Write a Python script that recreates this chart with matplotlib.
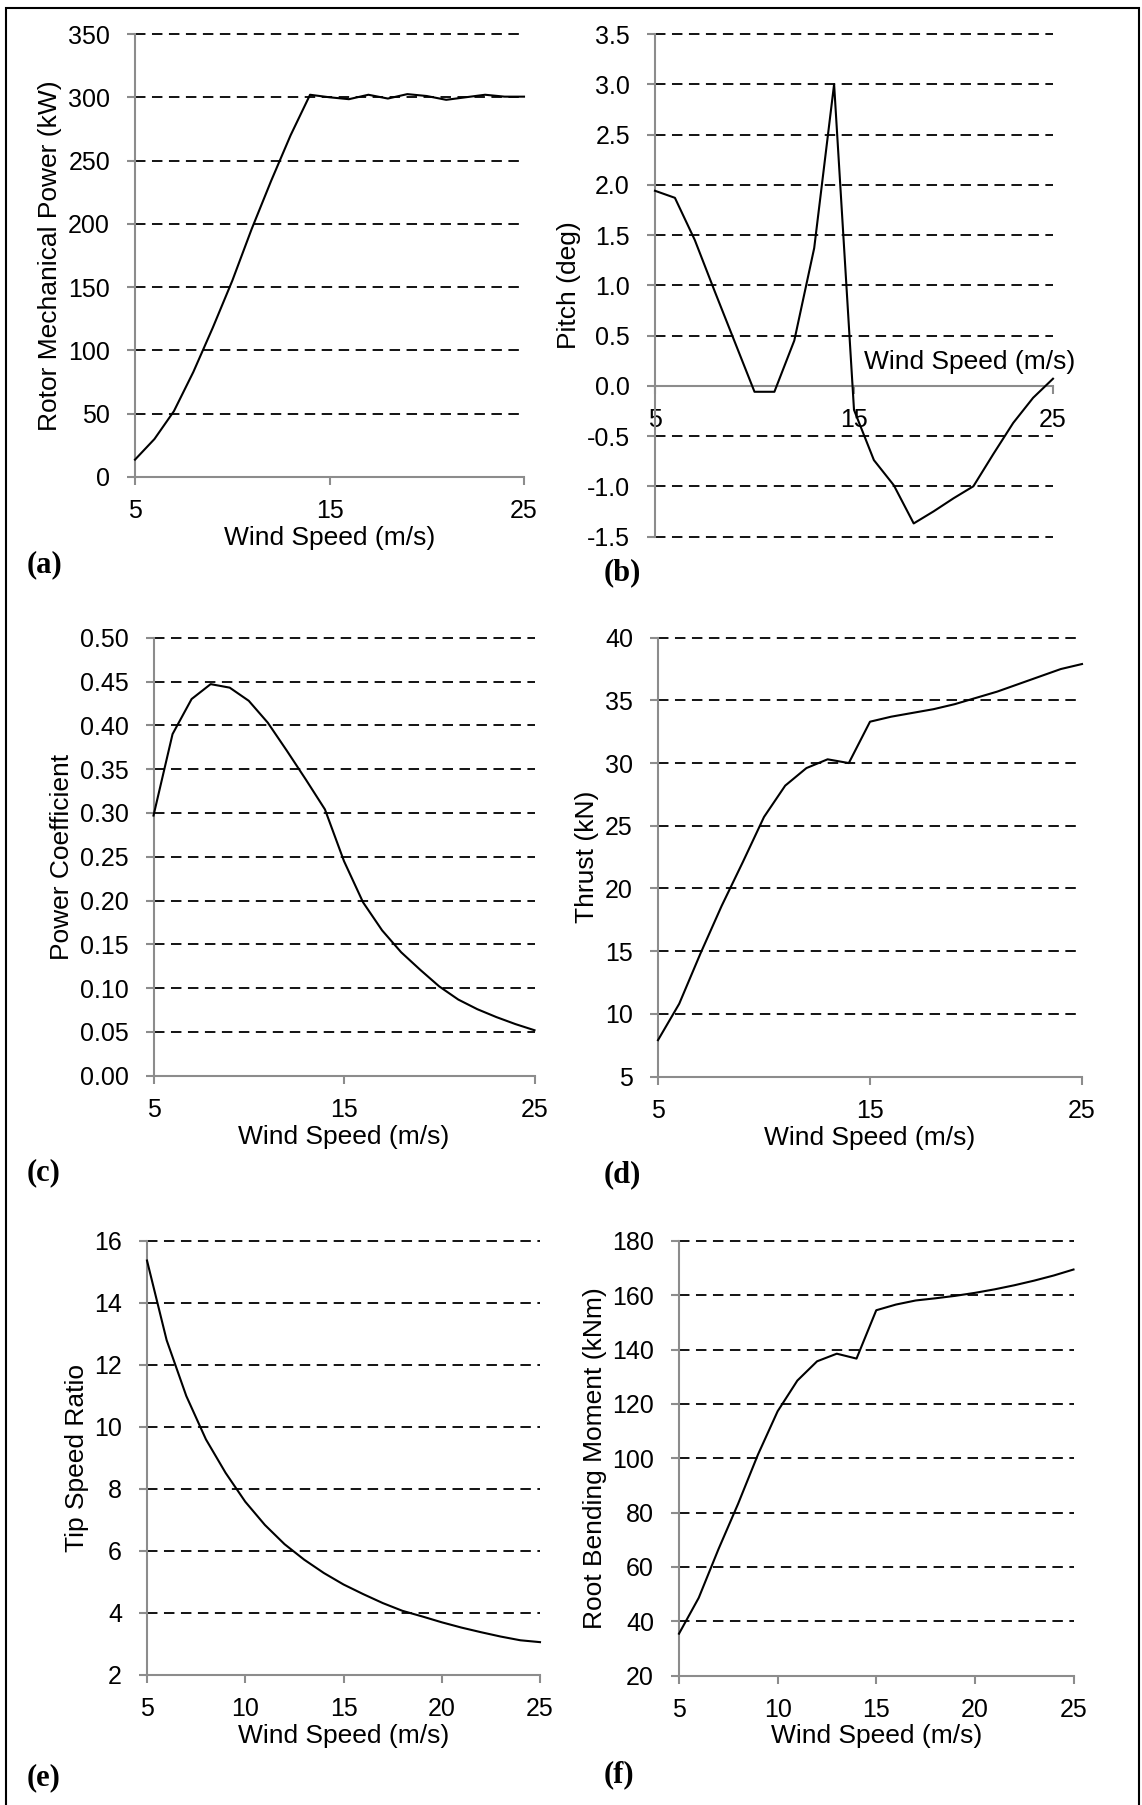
import matplotlib
matplotlib.use('Agg')
import matplotlib.pyplot as plt
from matplotlib.patches import Rectangle
from matplotlib.ticker import FormatStrFormatter

W, H = 1142, 1805

# Wind speeds (m/s) shared by all six panels
wind_speed = [5, 6, 7, 8, 9, 10, 11, 12, 13, 14, 15, 16, 17, 18, 19, 20, 21, 22, 23, 24, 25]

rotor_power = [13.7, 30, 52, 83, 118, 155, 196, 234, 270, 302, 300, 298.5, 302,
               299, 302.5, 301, 298, 300, 302, 300.5, 300.5]
pitch = [1.94, 1.87, 1.45, 0.94, 0.44, -0.06, -0.06, 0.45, 1.37, 3.0, -0.24,
         -0.74, -0.99, -1.37, -1.25, -1.12, -1.0, -0.68, -0.37, -0.12, 0.07]
power_coeff = [0.297, 0.390, 0.430, 0.447, 0.443, 0.428, 0.403, 0.371, 0.338,
               0.304, 0.245, 0.198, 0.166, 0.141, 0.121, 0.102, 0.087, 0.076,
               0.067, 0.059, 0.052]
thrust = [7.9, 10.8, 14.8, 18.6, 22.1, 25.7, 28.2, 29.6, 30.3, 30.0, 33.3, 33.7,
          34.0, 34.3, 34.7, 35.2, 35.7, 36.3, 36.9, 37.5, 37.9]
tip_speed_ratio = [15.37, 12.8, 11.0, 9.6, 8.52, 7.59, 6.84, 6.22, 5.72, 5.29,
                   4.92, 4.61, 4.32, 4.07, 3.89, 3.70, 3.53, 3.38, 3.24, 3.12, 3.06]
root_moment = [35.4, 48.6, 66.5, 83.3, 101.3, 117.3, 128.6, 135.7, 138.5, 136.7,
               154.5, 156.6, 158.1, 158.9, 159.8, 160.9, 162.2, 163.7, 165.4,
               167.3, 169.5]

ticks_a = [0, 50, 100, 150, 200, 250, 300, 350]
ticks_b = [-1.5, -1.0, -0.5, 0.0, 0.5, 1.0, 1.5, 2.0, 2.5, 3.0, 3.5]
ticks_c = [0.0, 0.05, 0.10, 0.15, 0.20, 0.25, 0.30, 0.35, 0.40, 0.45, 0.50]
ticks_d = [5, 10, 15, 20, 25, 30, 35, 40]
ticks_e = [2, 4, 6, 8, 10, 12, 14, 16]
ticks_f = [20, 40, 60, 80, 100, 120, 140, 160, 180]
x_coarse = [5, 15, 25]
x_fine = [5, 10, 15, 20, 25]

plt.rcParams['font.family'] = ['Liberation Sans', 'DejaVu Sans']
plt.rcParams['axes.unicode_minus'] = False

fig = plt.figure(figsize=(W / 100, H / 100), dpi=100)

GREY = '#8c8c8c'


def make_axes(left, top, right, bottom):
    return fig.add_axes([left / W, 1 - bottom / H, (right - left) / W, (bottom - top) / H])


def style(ax, y, yticks, xticks, fmt, ylabel, xlabel=True):
    ax.plot(wind_speed, y, color='black', lw=1.5, zorder=3, clip_on=False)
    ax.set_xlim(5, 25)
    ax.set_ylim(yticks[0], yticks[-1])
    ax.set_xticks(xticks)
    ax.set_yticks(yticks)
    ax.yaxis.set_major_formatter(FormatStrFormatter(fmt))
    ax.grid(axis='y', color='black', lw=1.3, ls=(0, (5.8, 3.6)))
    for line in ax.get_ygridlines():
        line.set_clip_on(False)
    for s in ['top', 'right']:
        ax.spines[s].set_visible(False)
    for s in ['left', 'bottom']:
        ax.spines[s].set_color(GREY)
        ax.spines[s].set_linewidth(1.5)
    ax.tick_params(color=GREY, width=1.5, length=6, labelsize=18)
    ax.tick_params(axis='x', pad=10)
    ax.tick_params(axis='y', pad=12)
    ax.set_ylabel(ylabel, fontsize=19, labelpad=4)
    if xlabel:
        ax.set_xlabel('Wind Speed (m/s)', fontsize=19, labelpad=2)


ax = make_axes(135, 34, 524, 477)
style(ax, rotor_power, ticks_a, x_coarse, '%d', 'Rotor Mechanical Power (kW)')

ax = make_axes(655, 34, 1053, 536.5)
style(ax, pitch, ticks_b, x_coarse, '%.1f', 'Pitch (deg)', xlabel=False)
ax.spines['bottom'].set_position(('data', 0))
ax.text(0.79, 0.347, 'Wind Speed (m/s)', transform=ax.transAxes, fontsize=19,
        ha='center', va='center')

ax = make_axes(153.5, 637.7, 534.5, 1075.8)
style(ax, power_coeff, ticks_c, x_coarse, '%.2f', 'Power Coefficient')

ax = make_axes(658, 637.7, 1082, 1076.5)
style(ax, thrust, ticks_d, x_coarse, '%d', 'Thrust (kN)')

ax = make_axes(147, 1241, 540, 1675)
style(ax, tip_speed_ratio, ticks_e, x_fine, '%d', 'Tip Speed Ratio')

ax = make_axes(679, 1241, 1073.5, 1675.5)
style(ax, root_moment, ticks_f, x_fine, '%d', 'Root Bending Moment (kNm)')

# panel letters
for label, px, py in [('(a)', 27, 565), ('(b)', 604, 573), ('(c)', 27, 1173),
                      ('(d)', 604, 1175), ('(e)', 27, 1778), ('(f)', 604, 1775)]:
    fig.text(px / W, 1 - py / H, label, family='Liberation Serif', weight='bold',
             fontsize=22, ha='left', va='center')

# outer frame
fig.patches.append(Rectangle((6 / W, 1 - 1812 / H), (1138.5 - 6) / W, (1812 - 8) / H,
                             transform=fig.transFigure, fill=False, ec='black', lw=1.5))

fig.savefig('out.png', dpi=100)
